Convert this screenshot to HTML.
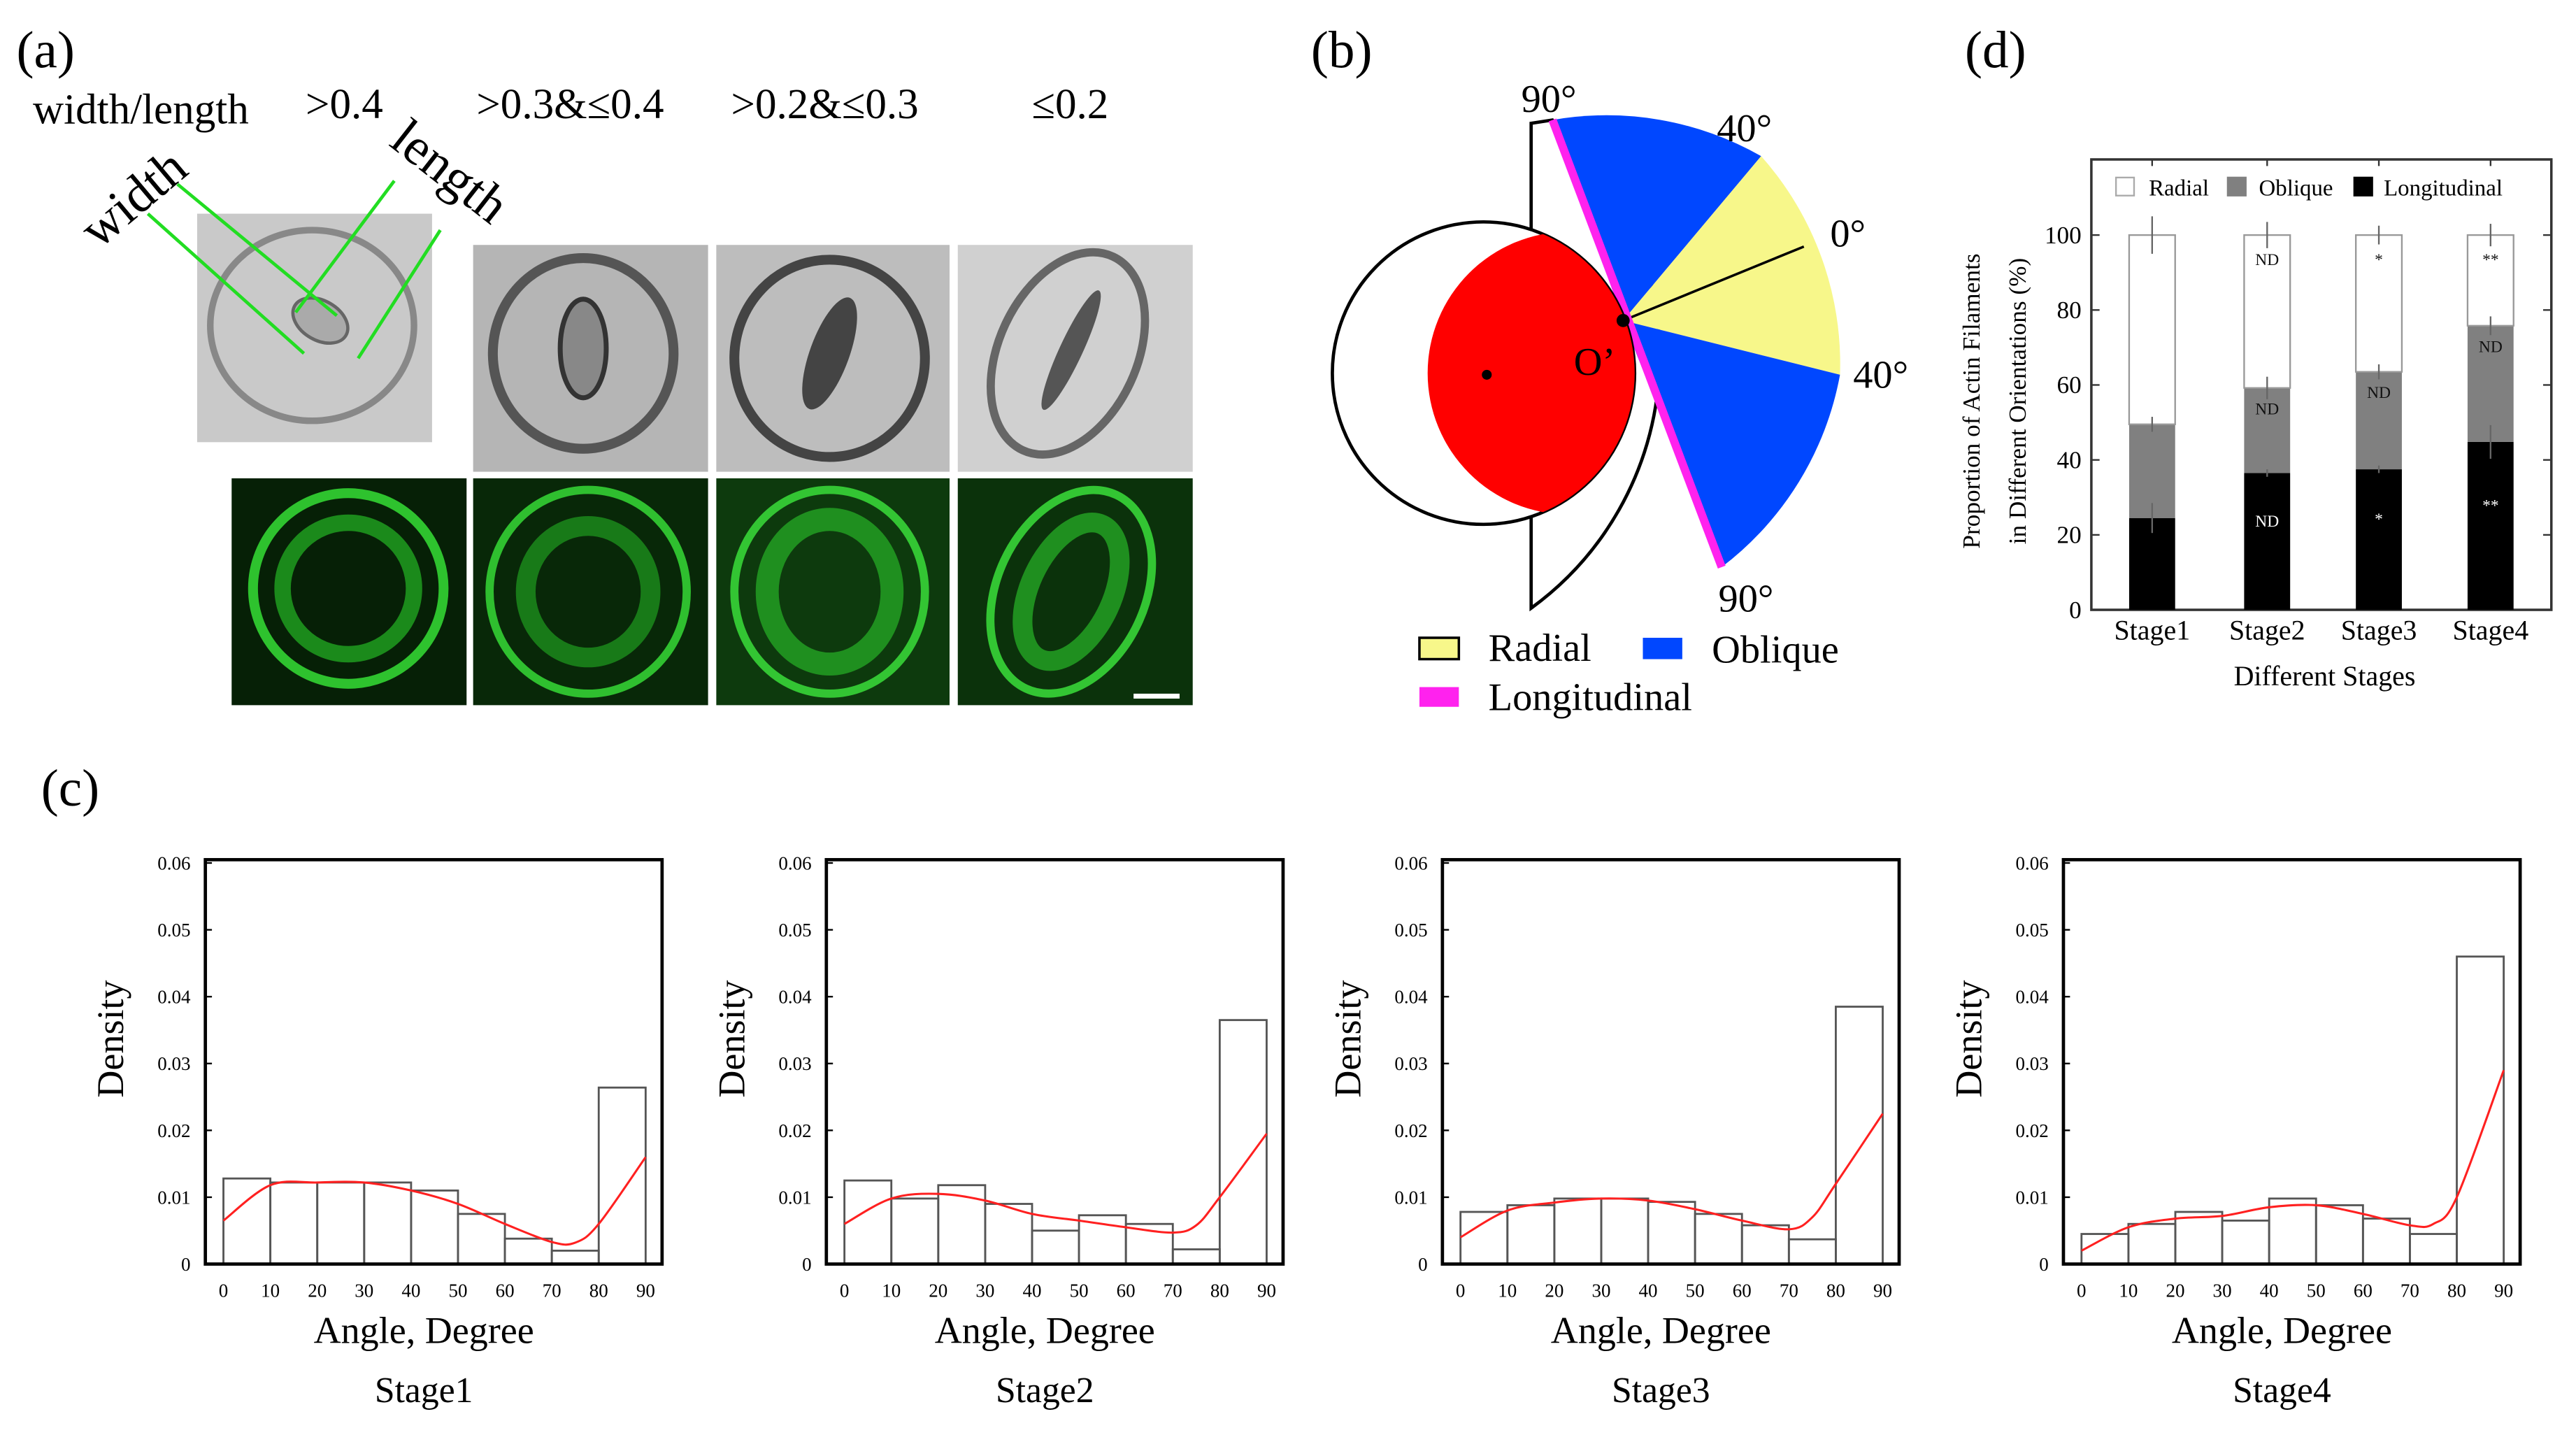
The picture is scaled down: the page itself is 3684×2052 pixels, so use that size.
<!DOCTYPE html>
<html><head><meta charset="utf-8"><style>
html,body{margin:0;padding:0;background:#fff}
svg{display:block;font-family:"Liberation Serif",serif}
</style></head><body>
<svg id="fig" width="3684" height="2052" viewBox="0 0 1568 873" preserveAspectRatio="none" xmlns="http://www.w3.org/2000/svg">
<rect width="1568" height="873" fill="#fff"/>
<!-- Panel a -->
<g>
<text x="10" y="41" font-size="32">(a)</text>
<text x="20" y="75" font-size="26">width/length</text>
<text x="186" y="72" font-size="26">&gt;0.4</text>
<text x="290" y="72" font-size="26">&gt;0.3&amp;≤0.4</text>
<text x="445" y="72" font-size="26">&gt;0.2&amp;≤0.3</text>
<text x="628" y="72" font-size="26">≤0.2</text>
<g>
<rect x="120" y="130" width="143" height="139" fill="#c9c9c9"/>
<ellipse cx="190" cy="198" rx="62" ry="58" fill="none" stroke="#888" stroke-width="4"/>
<ellipse cx="195" cy="195" rx="18" ry="12" fill="#aaa" stroke="#666" stroke-width="2" transform="rotate(30 195 195)"/>
<rect x="288" y="149" width="143" height="138" fill="#b5b5b5"/>
<ellipse cx="355" cy="215" rx="55" ry="58" fill="none" stroke="#555" stroke-width="6"/>
<ellipse cx="355" cy="212" rx="14" ry="30" fill="#888" stroke="#333" stroke-width="3"/>
<rect x="436" y="149" width="142" height="138" fill="#bdbdbd"/>
<ellipse cx="505" cy="218" rx="58" ry="60" fill="none" stroke="#444" stroke-width="6"/>
<ellipse cx="505" cy="215" rx="12" ry="36" fill="#444" transform="rotate(20 505 215)"/>
<rect x="583" y="149" width="143" height="138" fill="#d0d0d0"/>
<ellipse cx="650" cy="215" rx="42" ry="65" fill="none" stroke="#666" stroke-width="5" transform="rotate(25 650 215)"/>
<ellipse cx="652" cy="213" rx="7" ry="40" fill="#555" transform="rotate(25 652 213)"/>
</g>
<g>
<rect x="141" y="291" width="143" height="138" fill="#062006"/>
<ellipse cx="212" cy="358" rx="58" ry="58" fill="none" stroke="#2ec22e" stroke-width="6"/>
<ellipse cx="212" cy="358" rx="40" ry="40" fill="none" stroke="#1b8a1b" stroke-width="10"/>
<rect x="288" y="291" width="143" height="138" fill="#082808"/>
<ellipse cx="358" cy="360" rx="60" ry="62" fill="none" stroke="#2fbf2f" stroke-width="5"/>
<ellipse cx="358" cy="360" rx="38" ry="40" fill="none" stroke="#187a18" stroke-width="12"/>
<rect x="436" y="291" width="142" height="138" fill="#0d3a0d"/>
<ellipse cx="505" cy="360" rx="58" ry="62" fill="none" stroke="#33c533" stroke-width="5"/>
<ellipse cx="505" cy="360" rx="38" ry="44" fill="none" stroke="#1f8f1f" stroke-width="14"/>
<rect x="583" y="291" width="143" height="138" fill="#0b320b"/>
<ellipse cx="652" cy="360" rx="45" ry="65" fill="none" stroke="#33c533" stroke-width="5" transform="rotate(25 652 360)"/>
<ellipse cx="652" cy="360" rx="25" ry="45" fill="none" stroke="#1f8f1f" stroke-width="12" transform="rotate(25 652 360)"/>
<rect x="690" y="422" width="28" height="3" fill="#fff"/>
</g>
<g stroke="#22dd22" stroke-width="2">
<line x1="90" y1="130" x2="185" y2="215"/><line x1="108" y1="112" x2="205" y2="192"/>
<line x1="240" y1="110" x2="180" y2="190"/><line x1="268" y1="140" x2="218" y2="218"/>
</g>
<text x="0" y="0" font-size="32" transform="translate(60 152) rotate(-40)">width</text>
<text x="0" y="0" font-size="32" transform="translate(236 88) rotate(38)">length</text>
</g>
<!-- Panel b -->
<g>
<text x="798" y="41" font-size="32">(b)</text>
<path d="M932,75 L945,73 A190,190 0 0,1 932,370 Z" fill="#fff" stroke="#000" stroke-width="2"/>
<path d="M988,195 L945,73 A190,190 0 0,1 1072,95 Z" fill="#0047ff"/>
<path d="M988,195 L1072,95 A190,190 0 0,1 1120,228 Z" fill="#f7f78a"/>
<path d="M988,195 L1120,228 A190,190 0 0,1 1048,345 Z" fill="#0047ff"/>
<line x1="988" y1="195" x2="1098" y2="150" stroke="#000" stroke-width="1.5"/>
<line x1="945" y1="73" x2="1048" y2="345" stroke="#ff22ee" stroke-width="5"/>
<circle cx="903" cy="227" r="92" fill="#fff" stroke="#000" stroke-width="2"/>
<clipPath id="bc"><circle cx="903" cy="227" r="92"/></clipPath>
<circle cx="955" cy="227" r="86" fill="#ff0000" clip-path="url(#bc)"/>
<circle cx="905" cy="228" r="3" fill="#000"/>
<circle cx="988" cy="195" r="4" fill="#000"/>
<text x="958" y="228" font-size="24">O’</text>
<text x="926" y="68" font-size="24">90°</text>
<text x="1045" y="86" font-size="24">40°</text>
<text x="1114" y="150" font-size="24">0°</text>
<text x="1128" y="236" font-size="24">40°</text>
<text x="1046" y="372" font-size="24">90°</text>
<rect x="864" y="388" width="24" height="13" fill="#f7f78a" stroke="#000" stroke-width="1.5"/>
<text x="906" y="402" font-size="24">Radial</text>
<rect x="1000" y="388" width="24" height="13" fill="#0047ff"/>
<text x="1042" y="403" font-size="24">Oblique</text>
<rect x="864" y="418" width="24" height="12" fill="#ff22ee"/>
<text x="906" y="432" font-size="24">Longitudinal</text>
</g>
<text x="1196" y="41" font-size="32">(d)</text>
<text x="25" y="490" font-size="32">(c)</text>
<g id="pd"></g>
<g id="pc"></g>
</svg>
<script>
const NS="http://www.w3.org/2000/svg";
// ---- Panel d data ----
const stageCats=["Stage1","Stage2","Stage3","Stage4"];
const longVals=[24.5,36.5,37.5,44.8];
const obliqVals=[25,22.7,26,31];
const radialVals=[50.5,40.8,36.5,24.2];
const longErr=[4,1,1,4.5];
const obliqErr=[2,3,2,2.5];
const radialErr=[5,3.5,2.5,3];
const yTicksD=[0,20,40,60,80,100];
const longMarks=["","ND","*","**"];
const obliqMarks=["","ND","ND","ND"];
const radialMarks=["","ND","*","**"];
// ---- Panel c data ----
const binEdges=[0,10,20,30,40,50,60,70,80,90];
const hist1=[0.0128,0.0122,0.0122,0.0122,0.011,0.0075,0.0038,0.002,0.0264];
const hist2=[0.0125,0.0098,0.0118,0.009,0.005,0.0073,0.006,0.0022,0.0365];
const hist3=[0.0078,0.0088,0.0098,0.0098,0.0093,0.0075,0.0058,0.0037,0.0385];
const hist4=[0.0045,0.006,0.0078,0.0065,0.0098,0.0088,0.0068,0.0045,0.046];
const kdeX=[0,10,20,30,40,50,60,70,75,80,90];
const kde1=[0.0065,0.0118,0.0122,0.0122,0.011,0.009,0.006,0.0033,0.0032,0.006,0.016];
const kde2=[0.006,0.0098,0.0105,0.0095,0.0075,0.0065,0.0055,0.0047,0.0058,0.01,0.0195];
const kde3=[0.004,0.008,0.0092,0.0098,0.0095,0.0082,0.0065,0.0052,0.007,0.012,0.0225];
const kde4=[0.002,0.0055,0.0068,0.0072,0.0085,0.0088,0.0075,0.0058,0.006,0.01,0.029];
const yTicksC=[0,0.01,0.02,0.03,0.04,0.05,0.06];
const yTickLabelsC=["0","0.01","0.02","0.03","0.04","0.05","0.06"];
const xTicksC=[0,10,20,30,40,50,60,70,80,90];
const stageTitles=["Stage1","Stage2","Stage3","Stage4"];

function mk(tag,attrs,parent,text){const e=document.createElementNS(NS,tag);for(const k in attrs)e.setAttribute(k,attrs[k]);if(text!==undefined)e.textContent=text;parent.appendChild(e);return e;}

// Panel d
(function(){
 const g=document.getElementById('pd');
 const L=1273,R=1553,T=97,B=371;
 const y=v=>B-(v/100)*228;
 const xc=[1310,1380,1448,1516];const bw=28;
 const fr=mk('rect',{x:L,y:T,width:R-L,height:B-T,fill:'none',stroke:'#333','stroke-width':1.5},g);
 
 yTicksD.forEach(v=>{
  mk('line',{x1:L,x2:L+5,y1:y(v),y2:y(v),stroke:'#333'},g);
  mk('line',{x1:R-5,x2:R,y1:y(v),y2:y(v),stroke:'#333'},g);
  const t=mk('text',{x:L-6,y:y(v)+5,'font-size':15,'text-anchor':'end'},g,String(v));
  
 });
 stageCats.forEach((c,i)=>{
  const x0=xc[i]-bw/2;
  const l=longVals[i],o=obliqVals[i],r=radialVals[i];
  const b1=mk('rect',{x:x0,y:y(l),width:bw,height:y(0)-y(l),fill:'#000'},g);
  
  const b2=mk('rect',{x:x0,y:y(l+o),width:bw,height:y(l)-y(l+o),fill:'#808080'},g);
  
  const b3=mk('rect',{x:x0,y:y(l+o+r),width:bw,height:y(l+o)-y(l+o+r),fill:'#fff',stroke:'#999','stroke-width':1},g);
  
  [[l,longErr[i]],[l+o,obliqErr[i]],[l+o+r,radialErr[i]]].forEach(([v,e])=>{
   mk('line',{x1:xc[i],x2:xc[i],y1:y(v+e),y2:y(v-e),stroke:'#666','stroke-width':1},g);
  });
  if(longMarks[i]){const t=mk('text',{x:xc[i],y:y(l/2+4),'font-size':10,'text-anchor':'middle',fill:'#fff'},g,longMarks[i]);}
  if(obliqMarks[i]){const t=mk('text',{x:xc[i],y:y(l+o-7),'font-size':10,'text-anchor':'middle',fill:'#111'},g,obliqMarks[i]);}
  if(radialMarks[i]){const t=mk('text',{x:xc[i],y:y(92),'font-size':10,'text-anchor':'middle',fill:'#111'},g,radialMarks[i]);}
  mk('line',{x1:xc[i],x2:xc[i],y1:T,y2:T+4,stroke:'#333'},g);
  const tl=mk('text',{x:xc[i],y:389,'font-size':17,'text-anchor':'middle'},g,c);
  
 });
 const xt=mk('text',{x:1415,y:417,'font-size':17,'text-anchor':'middle'},g,'Different Stages');
 
 const y1=mk('text',{x:0,y:0,'font-size':15,'text-anchor':'middle',transform:'translate(1205 244) rotate(-90)'},g,'Proportion of Actin Filaments');
 
 const y2=mk('text',{x:0,y:0,'font-size':15,'text-anchor':'middle',transform:'translate(1233 244) rotate(-90)'},g,'in Different Orientations (%)');
 
 const leg=[['#fff','Radial',1288,1308],['#808080','Oblique',1356,1375],['#000','Longitudinal',1433,1451]];
 leg.forEach(([c,n,bx,tx])=>{
  const s=mk('rect',{x:bx,y:108,width:11,height:11,fill:c,stroke:c==='#fff'?'#aaa':c},g);
  
  const t=mk('text',{x:tx,y:119,'font-size':14},g,n);
  
 });
})();

// Panel c
(function(){
 const g=document.getElementById('pc');
 const lefts=[125,503,878,1256];
 const hists=[hist1,hist2,hist3,hist4];
 const kdes=[kde1,kde2,kde3,kde4];
 const W=278,T=523,B=769;
 lefts.forEach((L,k)=>{
  const sg=mk('g',{},g);
  
  const x=v=>L+11+(v/90)*(W-21);
  const y=v=>B-(v/0.06)*(B-T-2);
  const hv=hists[k];
  for(let i=0;i<hv.length;i++){
   const r=mk('rect',{x:x(binEdges[i]),y:y(hv[i]),width:x(binEdges[i+1])-x(binEdges[i]),height:y(0)-y(hv[i]),fill:'none',stroke:'#555','stroke-width':1.2},sg);
   
  }
  const kv=kdes[k];
  const pts=kdeX.map((v,i)=>[x(v),y(kv[i])]);
  let d='M'+pts[0][0]+','+pts[0][1];
  for(let i=0;i<pts.length-1;i++){
   const p0=pts[Math.max(0,i-1)],p1=pts[i],p2=pts[i+1],p3=pts[Math.min(pts.length-1,i+2)];
   const c1=[p1[0]+(p2[0]-p0[0])/6,p1[1]+(p2[1]-p0[1])/6];
   const c2=[p2[0]-(p3[0]-p1[0])/6,p2[1]-(p3[1]-p1[1])/6];
   d+=' C'+c1+' '+c2+' '+p2;
  }
  const ln=mk('path',{d:d,fill:'none',stroke:'#ff2020','stroke-width':1.3},sg);
  
  const fr=mk('rect',{x:L,y:T,width:W,height:B-T,fill:'none',stroke:'#000','stroke-width':2},sg);
  
  yTicksC.forEach((v,i)=>{
   mk('line',{x1:L,x2:L+4,y1:y(v),y2:y(v),stroke:'#000'},sg);
   const t=mk('text',{x:L-9,y:y(v)+4,'font-size':11.5,'text-anchor':'end'},sg,yTickLabelsC[i]);
   
  });
  xTicksC.forEach(v=>{
   const t=mk('text',{x:x(v),y:789,'font-size':11.5,'text-anchor':'middle'},sg,String(v));
   
  });
  const xt=mk('text',{x:L+133,y:817,'font-size':23,'text-anchor':'middle'},sg,'Angle, Degree');
  
  const st=mk('text',{x:L+133,y:853,'font-size':22,'text-anchor':'middle'},sg,stageTitles[k]);
  
  const yt=mk('text',{x:0,y:0,'font-size':23,'text-anchor':'middle',transform:'translate('+(L-50)+' 632) rotate(-90)'},sg,'Density');
  
 });
})();
</script>
</body></html>
